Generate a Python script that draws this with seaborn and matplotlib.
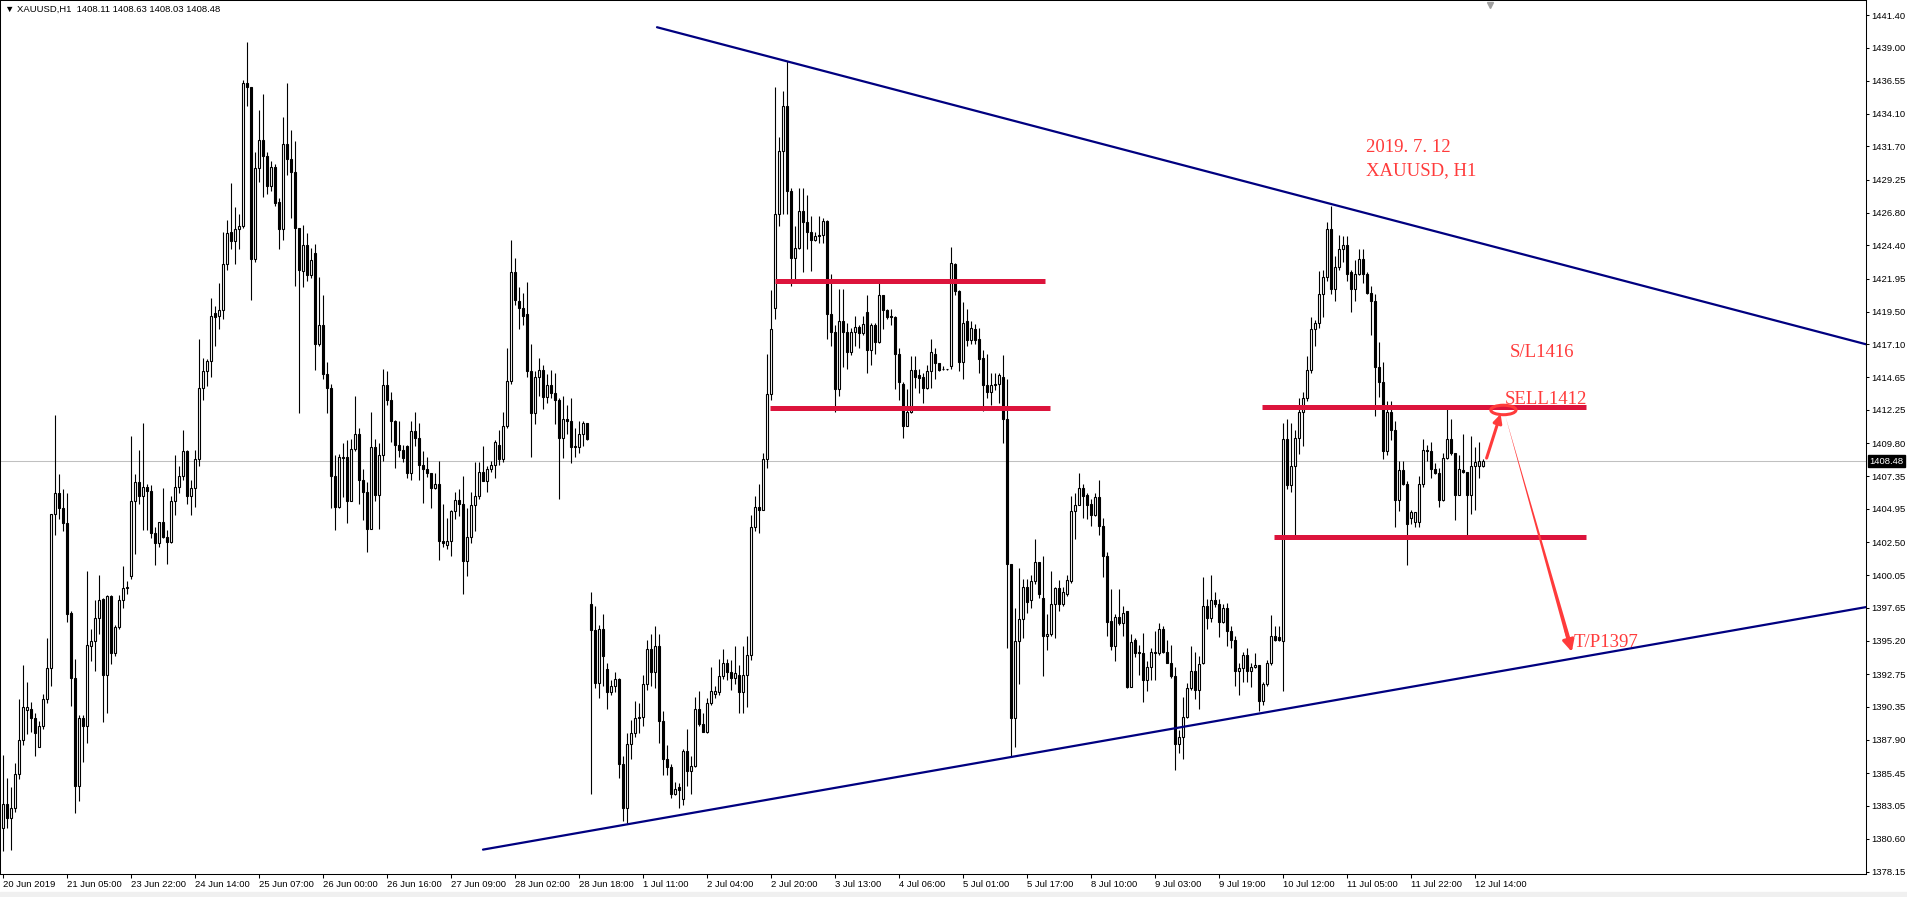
import numpy as np
import pandas as pd
import seaborn as sns
import matplotlib.pyplot as plt
from matplotlib import transforms
from matplotlib.patches import Ellipse, Rectangle

# XAUUSD H1, 20 Jun 2019 .. 12 Jul 2019 16:00, one value per hourly bar
opens = [
    1381.4, 1383.2, 1382.1, 1382.9, 1385.4, 1387.9, 1390.1, 1390.2, 1389.5, 1387.4,
    1388.9, 1390.9, 1393.2, 1404.6, 1406.1, 1405.0, 1403.9, 1397.3, 1392.5, 1384.5,
    1389.5, 1388.9, 1394.8, 1395.2, 1396.9, 1398.3, 1392.7, 1398.5, 1394.3, 1396.2,
    1398.2, 1399.1, 1400.0, 1405.5, 1406.9, 1405.9, 1406.6, 1406.3, 1403.2, 1402.4,
    1404.0, 1402.9, 1402.5, 1405.5, 1406.6, 1407.4, 1409.2, 1405.9, 1406.5, 1408.6,
    1413.9, 1415.1, 1415.9, 1419.4, 1419.2, 1419.6, 1423.0, 1425.4, 1424.7, 1425.6,
    1425.8, 1436.4, 1436.1, 1423.4, 1430.1, 1432.2, 1431.0, 1428.8, 1430.2, 1427.6,
    1425.6, 1431.9, 1430.8, 1429.8, 1425.7, 1422.5, 1424.4, 1422.2, 1423.8, 1417.1,
    1418.5, 1414.9, 1413.9, 1407.4, 1405.1, 1408.8, 1408.8, 1405.5, 1409.4, 1410.5,
    1407.1, 1406.2, 1403.5, 1409.5, 1406.0, 1408.9, 1414.1, 1413.0, 1411.4, 1409.7,
    1409.3, 1409.6, 1407.6, 1410.7, 1410.2, 1408.2, 1407.9, 1407.6, 1406.5, 1406.8,
    1402.6, 1402.3, 1402.6, 1404.8, 1405.6, 1405.3, 1401.1, 1402.9, 1405.2, 1405.9,
    1407.7, 1407.0, 1407.9, 1408.2, 1409.7, 1408.6, 1411.1, 1414.4, 1422.4, 1420.3,
    1419.8, 1419.3, 1415.1, 1412.0, 1414.7, 1415.2, 1413.2, 1414.1, 1413.5, 1413.0,
    1410.2, 1411.6, 1411.4, 1409.6, 1409.5, 1410.5, 1411.3, 1397.9, 1396.0, 1392.1,
    1396.1, 1393.1, 1391.4, 1391.9, 1392.4, 1386.1, 1382.9, 1387.6, 1388.4, 1389.5,
    1389.6, 1392.0, 1394.6, 1392.9, 1394.8, 1389.3, 1386.5, 1385.9, 1383.9, 1384.4,
    1383.5, 1387.1, 1385.6, 1386.0, 1390.2, 1389.1, 1388.5, 1390.6, 1391.3, 1391.4,
    1392.6, 1393.6, 1392.9, 1392.5, 1392.7, 1391.4, 1392.7, 1394.2, 1403.6, 1405.1,
    1404.9, 1408.6, 1413.4, 1419.8, 1426.7, 1431.4, 1434.7, 1428.4, 1423.5, 1424.2,
    1426.9, 1426.1, 1425.4, 1424.8, 1425.2, 1425.2, 1426.2, 1419.3, 1418.0, 1413.8,
    1418.8, 1418.0, 1416.5, 1418.0, 1418.4, 1417.9, 1419.5, 1416.7, 1418.5, 1417.3,
    1420.7, 1419.6, 1419.1, 1419.1, 1416.4, 1414.2, 1411.1, 1412.1, 1415.2, 1414.8,
    1414.7, 1413.9, 1415.1, 1416.4, 1415.7, 1415.3, 1415.3, 1415.5, 1423.0, 1421.0,
    1415.8, 1418.8, 1417.4, 1418.2, 1417.5, 1416.1, 1414.1, 1413.6, 1414.1, 1414.2,
    1414.7, 1411.6, 1400.9, 1389.5, 1395.2, 1396.8, 1399.2, 1398.2, 1399.6, 1401.0,
    1398.4, 1395.6, 1395.7, 1397.9, 1399.1, 1397.9, 1398.7, 1399.6, 1404.8, 1405.2,
    1406.5, 1406.0, 1405.3, 1404.5, 1405.8, 1403.7, 1401.5, 1396.7, 1394.8, 1397.0,
    1396.5, 1397.4, 1391.8, 1395.3, 1394.4, 1394.3, 1392.3, 1393.3, 1394.4, 1394.3,
    1396.1, 1394.4, 1393.6, 1392.6, 1387.6, 1388.1, 1389.6, 1391.7, 1393.0, 1391.6,
    1393.6, 1397.8, 1396.9, 1398.2, 1397.9, 1396.6, 1397.6, 1395.9, 1395.3, 1393.0,
    1393.2, 1394.2, 1393.0, 1393.3, 1393.4, 1390.8, 1392.0, 1393.6, 1395.6, 1395.5,
    1395.2, 1410.1, 1406.7, 1408.1, 1410.2, 1412.1, 1413.1, 1415.2, 1418.2, 1418.7,
    1420.8, 1422.1, 1425.6, 1421.2, 1422.8, 1424.1, 1424.4, 1422.4, 1421.2, 1422.3,
    1423.4, 1422.3, 1420.9, 1420.3, 1415.4, 1414.3, 1409.2, 1412.1, 1410.8, 1405.6,
    1407.8, 1406.8, 1404.3, 1404.0, 1404.0, 1406.8, 1409.3, 1409.2, 1407.9, 1407.6,
    1405.6, 1408.7, 1410.1, 1409.1, 1406.0, 1407.8, 1407.7, 1406.0, 1408.1, 1408.1,
    1408.11,
]
highs = [
    1386.8, 1385.1, 1384.4, 1386.2, 1390.9, 1393.4, 1392.2, 1390.7, 1389.9, 1389.3,
    1391.3, 1395.4, 1404.6, 1411.9, 1407.5, 1406.4, 1406.1, 1397.4, 1393.9, 1389.7,
    1389.7, 1400.4, 1396.1, 1398.2, 1400.1, 1398.4, 1398.6, 1398.6, 1396.4, 1398.6,
    1400.7, 1399.6, 1410.3, 1407.5, 1409.3, 1411.3, 1406.8, 1406.7, 1403.6, 1404.0,
    1406.5, 1403.4, 1405.9, 1408.9, 1408.1, 1410.8, 1409.3, 1407.1, 1409.3, 1417.5,
    1416.1, 1416.0, 1420.5, 1419.9, 1421.6, 1425.4, 1426.3, 1429.0, 1427.2, 1426.7,
    1436.6, 1439.4, 1436.1, 1431.3, 1434.4, 1435.6, 1431.3, 1430.6, 1430.4, 1427.9,
    1433.9, 1436.4, 1432.9, 1432.1, 1425.7, 1425.9, 1425.3, 1424.2, 1424.5, 1422.1,
    1420.7, 1415.8, 1414.2, 1408.9, 1409.0, 1409.8, 1410.0, 1410.1, 1413.3, 1410.9,
    1407.9, 1406.9, 1412.1, 1410.1, 1409.8, 1415.3, 1415.1, 1413.6, 1411.5, 1411.4,
    1409.7, 1409.7, 1411.4, 1412.1, 1411.3, 1409.2, 1408.8, 1407.6, 1407.6, 1408.5,
    1405.3, 1404.3, 1404.9, 1406.2, 1406.4, 1407.4, 1405.0, 1406.2, 1408.4, 1408.4,
    1409.6, 1408.1, 1408.5, 1410.0, 1410.8, 1412.1, 1416.8, 1424.8, 1423.5, 1421.3,
    1420.9, 1421.7, 1417.1, 1415.1, 1416.1, 1415.6, 1414.9, 1415.2, 1415.0, 1413.1,
    1413.3, 1412.6, 1413.1, 1410.9, 1411.4, 1411.4, 1411.3, 1398.8, 1397.8, 1396.4,
    1397.2, 1393.6, 1392.3, 1392.9, 1392.5, 1386.7, 1388.4, 1389.4, 1390.8, 1390.6,
    1392.7, 1395.3, 1395.7, 1396.3, 1395.7, 1390.0, 1387.5, 1386.1, 1384.8, 1384.7,
    1387.2, 1388.7, 1386.7, 1391.1, 1391.5, 1389.9, 1391.0, 1393.3, 1391.9, 1393.9,
    1394.6, 1393.9, 1393.8, 1394.8, 1393.4, 1394.8, 1395.6, 1404.5, 1405.9, 1406.8,
    1409.1, 1416.4, 1421.1, 1436.1, 1432.4, 1435.8, 1438.0, 1428.6, 1425.8, 1428.6,
    1428.6, 1428.1, 1426.6, 1425.4, 1426.6, 1426.4, 1426.3, 1422.3, 1418.5, 1421.2,
    1421.2, 1418.7, 1418.3, 1419.2, 1418.5, 1419.2, 1420.7, 1418.7, 1418.7, 1421.8,
    1420.7, 1419.7, 1419.7, 1419.2, 1416.8, 1414.3, 1413.8, 1416.2, 1416.2, 1415.3,
    1415.0, 1415.6, 1417.5, 1416.8, 1415.7, 1415.5, 1415.3, 1424.3, 1423.1, 1421.1,
    1420.2, 1419.7, 1418.8, 1418.6, 1418.3, 1416.7, 1416.4, 1415.0, 1415.0, 1415.0,
    1416.3, 1414.5, 1400.9, 1397.6, 1400.6, 1399.8, 1399.8, 1400.1, 1402.7, 1401.0,
    1401.5, 1397.2, 1400.4, 1399.2, 1399.7, 1399.2, 1400.1, 1405.9, 1406.1, 1407.6,
    1406.8, 1406.1, 1405.7, 1406.1, 1407.1, 1404.3, 1401.8, 1399.0, 1397.2, 1399.0,
    1397.8, 1397.4, 1395.7, 1395.4, 1394.9, 1395.8, 1393.7, 1394.7, 1395.9, 1396.5,
    1396.3, 1395.3, 1394.9, 1393.3, 1388.6, 1391.1, 1392.1, 1394.8, 1394.4, 1394.1,
    1399.9, 1398.3, 1400.1, 1398.8, 1398.3, 1397.9, 1398.0, 1396.3, 1395.6, 1393.6,
    1394.4, 1394.7, 1393.6, 1394.3, 1393.4, 1392.2, 1393.8, 1397.1, 1396.3, 1396.3,
    1411.3, 1411.6, 1411.3, 1410.8, 1413.1, 1413.6, 1416.2, 1419.1, 1418.9, 1422.5,
    1422.6, 1426.1, 1427.3, 1423.6, 1425.2, 1425.1, 1425.1, 1422.6, 1423.3, 1424.1,
    1424.1, 1422.4, 1421.4, 1420.8, 1417.3, 1415.8, 1412.9, 1412.9, 1411.4, 1408.5,
    1408.5, 1407.0, 1404.9, 1404.7, 1407.4, 1410.1, 1409.7, 1409.9, 1408.3, 1408.0,
    1409.1, 1412.5, 1411.6, 1409.1, 1408.9, 1410.5, 1407.7, 1410.3, 1409.5, 1409.9,
    1408.63,
]
lows = [
    1379.7, 1381.4, 1379.8, 1382.6, 1385.0, 1387.5, 1388.3, 1388.5, 1386.7, 1387.4,
    1388.7, 1390.6, 1391.9, 1403.0, 1404.2, 1403.3, 1396.6, 1390.4, 1382.5, 1383.4,
    1386.3, 1387.7, 1393.7, 1393.0, 1395.7, 1389.2, 1389.9, 1393.5, 1394.1, 1396.1,
    1397.6, 1398.7, 1399.8, 1401.6, 1405.3, 1403.4, 1403.4, 1402.8, 1400.8, 1402.1,
    1402.8, 1400.9, 1402.4, 1404.5, 1406.1, 1407.1, 1405.3, 1404.5, 1405.1, 1408.1,
    1413.0, 1414.0, 1414.7, 1417.0, 1418.2, 1419.0, 1422.6, 1424.1, 1423.0, 1424.1,
    1425.7, 1434.7, 1420.4, 1423.2, 1429.1, 1428.0, 1428.2, 1428.4, 1427.3, 1424.1,
    1424.8, 1429.6, 1426.4, 1421.4, 1412.0, 1421.3, 1421.8, 1422.0, 1415.2, 1417.0,
    1414.5, 1412.0, 1405.0, 1403.4, 1405.0, 1405.8, 1403.9, 1405.5, 1409.2, 1405.3,
    1404.1, 1401.8, 1403.5, 1405.5, 1403.5, 1408.5, 1412.6, 1409.9, 1408.0, 1408.8,
    1408.4, 1407.2, 1407.1, 1409.6, 1407.1, 1405.4, 1407.3, 1405.0, 1406.4, 1401.2,
    1402.1, 1402.0, 1401.5, 1404.2, 1404.4, 1398.7, 1400.0, 1402.4, 1403.3, 1405.7,
    1407.0, 1406.2, 1407.7, 1407.2, 1408.2, 1408.4, 1410.9, 1414.2, 1420.0, 1418.2,
    1418.5, 1414.7, 1408.8, 1411.2, 1413.3, 1412.3, 1412.8, 1413.1, 1411.2, 1405.7,
    1408.7, 1410.5, 1408.3, 1408.8, 1409.1, 1409.6, 1410.0, 1383.9, 1391.7, 1391.0,
    1391.9, 1390.2, 1391.2, 1391.4, 1385.1, 1381.9, 1381.8, 1386.5, 1388.1, 1388.4,
    1388.9, 1391.6, 1391.9, 1391.7, 1387.7, 1385.3, 1385.3, 1383.6, 1383.8, 1382.9,
    1383.1, 1384.5, 1383.9, 1385.9, 1388.9, 1388.5, 1388.4, 1390.5, 1391.0, 1391.2,
    1392.4, 1392.3, 1391.6, 1392.0, 1389.9, 1389.9, 1390.3, 1393.8, 1403.3, 1403.2,
    1404.9, 1408.0, 1413.0, 1419.0, 1425.8, 1426.7, 1426.7, 1421.4, 1421.9, 1424.1,
    1422.4, 1424.1, 1422.5, 1424.7, 1424.6, 1424.6, 1417.5, 1417.0, 1412.1, 1413.3,
    1415.4, 1415.3, 1416.3, 1417.0, 1416.8, 1417.8, 1415.0, 1415.6, 1416.4, 1417.2,
    1418.2, 1419.0, 1418.5, 1413.8, 1413.0, 1410.2, 1411.1, 1412.0, 1413.9, 1413.5,
    1412.8, 1413.8, 1413.9, 1414.5, 1415.1, 1415.2, 1415.2, 1415.3, 1420.7, 1415.1,
    1414.5, 1417.0, 1417.1, 1417.1, 1415.0, 1412.2, 1413.1, 1412.6, 1413.7, 1412.8,
    1409.8, 1394.7, 1386.6, 1387.4, 1392.0, 1395.4, 1397.3, 1397.6, 1399.4, 1398.4,
    1392.6, 1394.5, 1395.6, 1395.4, 1397.4, 1397.8, 1398.5, 1399.5, 1402.7, 1405.2,
    1404.3, 1404.2, 1403.7, 1404.4, 1403.0, 1399.9, 1395.6, 1394.5, 1393.7, 1396.4,
    1395.6, 1391.7, 1391.8, 1394.0, 1392.7, 1390.7, 1391.5, 1392.3, 1392.3, 1394.2,
    1394.3, 1393.6, 1392.5, 1385.7, 1386.9, 1386.5, 1389.5, 1391.6, 1390.9, 1390.2,
    1393.5, 1396.1, 1396.6, 1397.7, 1395.5, 1396.5, 1394.8, 1394.7, 1391.9, 1391.2,
    1392.2, 1392.2, 1391.8, 1393.2, 1390.0, 1390.5, 1391.9, 1393.4, 1395.2, 1395.2,
    1391.5, 1406.4, 1406.2, 1403.0, 1409.0, 1409.6, 1412.9, 1415.0, 1417.0, 1418.3,
    1419.1, 1421.8, 1420.8, 1420.3, 1422.6, 1423.2, 1421.8, 1419.5, 1420.3, 1422.2,
    1421.6, 1420.8, 1417.8, 1411.8, 1413.2, 1408.6, 1408.9, 1410.0, 1403.6, 1404.8,
    1406.7, 1400.8, 1403.8, 1403.6, 1403.6, 1406.6, 1408.5, 1407.2, 1407.5, 1405.1,
    1405.5, 1408.6, 1408.9, 1404.1, 1406.0, 1407.6, 1403.0, 1404.6, 1404.9, 1407.2,
    1408.03,
]
closes = [
    1383.2, 1382.1, 1382.9, 1385.4, 1387.9, 1390.3, 1390.3, 1389.5, 1388.4, 1388.9,
    1390.9, 1393.2, 1404.6, 1406.1, 1405.0, 1403.9, 1397.2, 1392.5, 1384.5, 1389.5,
    1388.9, 1394.9, 1395.2, 1396.9, 1398.2, 1392.7, 1398.5, 1394.3, 1396.2, 1398.2,
    1399.1, 1399.2, 1405.5, 1406.9, 1405.9, 1406.6, 1406.3, 1403.2, 1402.4, 1404.0,
    1402.9, 1402.5, 1405.5, 1406.6, 1407.4, 1409.2, 1405.9, 1406.5, 1408.6, 1413.9,
    1415.1, 1415.9, 1419.2, 1419.1, 1419.6, 1423.0, 1425.3, 1424.7, 1425.6, 1425.8,
    1436.4, 1436.1, 1423.4, 1430.1, 1432.2, 1431.0, 1428.8, 1430.2, 1427.5, 1425.6,
    1431.9, 1430.8, 1429.8, 1425.7, 1422.6, 1424.4, 1422.2, 1423.3, 1417.1, 1418.5,
    1414.9, 1413.9, 1407.4, 1405.1, 1408.8, 1408.7, 1405.5, 1409.4, 1410.5, 1407.1,
    1406.2, 1403.5, 1409.5, 1406.0, 1408.9, 1414.1, 1413.0, 1411.4, 1409.7, 1409.3,
    1408.7, 1407.6, 1410.7, 1410.2, 1408.2, 1407.9, 1407.6, 1406.5, 1406.8, 1402.6,
    1402.4, 1402.6, 1404.8, 1405.6, 1405.3, 1401.1, 1402.9, 1405.2, 1405.9, 1407.7,
    1407.0, 1407.9, 1408.2, 1409.9, 1408.6, 1411.1, 1414.4, 1422.4, 1420.4, 1419.8,
    1419.2, 1415.1, 1412.0, 1414.7, 1415.2, 1413.2, 1414.1, 1413.5, 1413.0, 1410.2,
    1411.6, 1411.4, 1409.5, 1409.5, 1410.5, 1411.3, 1410.1, 1396.0, 1392.1, 1396.1,
    1394.1, 1391.4, 1391.9, 1392.4, 1386.1, 1382.9, 1387.6, 1388.4, 1389.5, 1389.6,
    1392.0, 1394.6, 1392.9, 1394.8, 1389.3, 1386.5, 1385.9, 1383.9, 1384.3, 1384.2,
    1387.1, 1385.6, 1386.0, 1390.2, 1389.1, 1388.5, 1390.6, 1391.5, 1391.5, 1392.6,
    1393.6, 1392.9, 1392.5, 1392.8, 1391.4, 1392.7, 1394.2, 1403.6, 1405.1, 1404.9,
    1408.6, 1413.4, 1418.2, 1426.7, 1431.4, 1434.7, 1428.4, 1423.5, 1424.2, 1426.9,
    1426.1, 1425.4, 1424.8, 1425.1, 1425.1, 1426.2, 1419.3, 1418.0, 1413.8, 1418.8,
    1418.0, 1416.5, 1418.0, 1418.4, 1417.9, 1418.6, 1416.7, 1418.5, 1417.3, 1420.7,
    1419.6, 1419.1, 1419.2, 1416.4, 1414.3, 1411.1, 1412.1, 1415.2, 1414.7, 1414.6,
    1413.9, 1415.1, 1416.5, 1415.7, 1415.2, 1415.3, 1415.3, 1423.1, 1421.0, 1415.8,
    1418.7, 1417.4, 1418.3, 1417.4, 1416.0, 1414.1, 1413.6, 1414.1, 1414.2, 1414.8,
    1411.6, 1400.9, 1389.5, 1395.2, 1396.8, 1399.2, 1398.1, 1399.6, 1401.0, 1398.7,
    1395.6, 1395.7, 1397.9, 1399.1, 1397.9, 1398.8, 1399.7, 1404.8, 1405.2, 1406.5,
    1405.9, 1405.2, 1404.5, 1405.8, 1403.7, 1401.5, 1396.6, 1394.8, 1397.0, 1396.5,
    1397.3, 1391.8, 1395.1, 1394.3, 1394.3, 1392.3, 1393.3, 1394.4, 1394.3, 1396.1,
    1394.4, 1393.6, 1392.6, 1387.6, 1388.1, 1389.6, 1391.7, 1393.0, 1391.6, 1393.5,
    1397.8, 1396.9, 1398.2, 1397.9, 1396.6, 1397.6, 1395.9, 1395.3, 1393.0, 1393.2,
    1394.2, 1393.0, 1393.3, 1393.4, 1390.8, 1392.0, 1393.6, 1395.6, 1395.3, 1395.3,
    1410.1, 1406.7, 1408.1, 1410.2, 1412.1, 1413.1, 1415.2, 1418.2, 1418.7, 1420.8,
    1422.1, 1425.6, 1421.2, 1422.8, 1424.1, 1424.4, 1422.3, 1421.2, 1422.3, 1423.4,
    1422.3, 1420.9, 1420.3, 1415.4, 1414.3, 1409.2, 1412.1, 1410.8, 1405.6, 1407.8,
    1406.8, 1403.8, 1404.7, 1404.7, 1406.8, 1409.3, 1409.2, 1407.9, 1407.6, 1405.6,
    1408.7, 1410.1, 1409.1, 1406.0, 1407.9, 1407.7, 1406.0, 1408.1, 1408.4, 1408.5,
    1408.48,
]

x_labels = [
    "20 Jun 2019", "21 Jun 05:00", "23 Jun 22:00", "24 Jun 14:00", "25 Jun 07:00",
    "26 Jun 00:00", "26 Jun 16:00", "27 Jun 09:00", "28 Jun 02:00", "28 Jun 18:00",
    "1 Jul 11:00", "2 Jul 04:00", "2 Jul 20:00", "3 Jul 13:00", "4 Jul 06:00",
    "5 Jul 01:00", "5 Jul 17:00", "8 Jul 10:00", "9 Jul 03:00", "9 Jul 19:00",
    "10 Jul 12:00", "11 Jul 05:00", "11 Jul 22:00", "12 Jul 14:00",
]
price_ticks = [
    1441.40, 1439.00, 1436.55, 1434.10, 1431.70, 1429.25, 1426.80, 1424.40, 1421.95,
    1419.50, 1417.10, 1414.65, 1412.25, 1409.80, 1407.35, 1404.95, 1402.50, 1400.05,
    1397.65, 1395.20, 1392.75, 1390.35, 1387.90, 1385.45, 1383.05, 1380.60, 1378.15,
]
bid = 1408.48
header = "XAUUSD,H1  1408.11 1408.63 1408.03 1408.48"

# drawing objects on the chart, in (bar, price)
upper_trend_bar = [163.5, 465.75]
upper_trend_price = [1440.5, 1417.1]
lower_trend_bar = [120.0, 465.75]
lower_trend_price = [1379.8, 1397.7]
zone_from = [193.0, 191.75, 314.75, 317.75]
zone_to = [260.5, 261.75, 395.75, 395.75]
zone_price = [1421.75, 1412.4, 1412.5, 1402.9]

notes = ["2019. 7. 12", "XAUUSD, H1", "S/L1416", "SELL1412", "T/P1397"]
note_bar = [340.75, 340.75, 376.6, 375.5, 392.6]
note_price = [1431.3, 1429.6, 1416.14, 1412.69, 1394.78]

df = pd.DataFrame({"open": opens, "high": highs, "low": lows, "close": closes})
df["bar"] = np.arange(len(df))
rise = df["close"] >= df["open"]
body = (df["close"] - df["open"]).abs()

sns.set_style("white")
plt.rcParams["font.family"] = ["Liberation Sans", "DejaVu Sans"]

fig = plt.figure(figsize=(19.08, 8.97), dpi=100)
ax = fig.add_axes([0, 23 / 897, 1866 / 1908, 874 / 897])

ax.axhline(bid, color="#c0c0c0", lw=0.75, zorder=1)
ax.vlines(df["bar"], df["low"], df["high"], color="black", lw=0.8, zorder=2)
ax.bar(df.loc[rise, "bar"], body[rise], bottom=df.loc[rise, "open"], width=0.58,
       facecolor="white", edgecolor="black", linewidth=0.8, zorder=3)
ax.bar(df.loc[~rise, "bar"], body[~rise], bottom=df.loc[~rise, "close"], width=0.58,
       facecolor="black", edgecolor="black", linewidth=0.8, zorder=3)

sns.lineplot(x=upper_trend_bar, y=upper_trend_price, ax=ax, color="#000080", linewidth=1.6, zorder=4)
sns.lineplot(x=lower_trend_bar, y=lower_trend_price, ax=ax, color="#000080", linewidth=1.6, zorder=4)
ax.hlines(zone_price, zone_from, zone_to, colors="#dc143c", linewidth=3.6, zorder=4)

red = "#ff3b3b"
for txt, b, p in zip(notes, note_bar, note_price):
    ax.text(b, p, txt, color=red, fontsize=13.5, ha="left", va="baseline",
            family=["Liberation Serif", "DejaVu Serif"], zorder=6)

# entry ellipse and the two arrows
ax.add_patch(Ellipse((375.1, 1412.25), width=6.3, height=0.7, fill=False,
                     edgecolor=red, lw=2.2, zorder=6))
ax.annotate("", xy=(374.4, 1411.95), xytext=(370.9, 1408.7),
            arrowprops=dict(arrowstyle="-|>,head_length=0.5,head_width=0.25",
                            color=red, lw=2.2, shrinkA=0, shrinkB=0), zorder=6)
ax.annotate("", xy=(375.6, 1411.8), xytext=(391.5, 1395.2),
            arrowprops=dict(arrowstyle="wedge,tail_width=0.3,shrink_factor=0.5",
                            color=red, lw=0, shrinkA=0, shrinkB=0), zorder=6)
ax.annotate("", xy=(392.2, 1394.4), xytext=(390.6, 1396.1),
            arrowprops=dict(arrowstyle="-|>,head_length=0.7,head_width=0.35",
                            color=red, lw=2.2, shrinkA=0, shrinkB=0), zorder=6)

ax.set_xlim(-0.75, 465.75)
ax.set_ylim(1378.0, 1442.51)
ax.set_xlabel("")
ax.set_ylabel("")

ax.set_xticks(np.arange(0, len(df), 16)[:len(x_labels)])
ax.set_xticklabels(x_labels, ha="left", fontsize=6.8)
shift = transforms.ScaledTranslation(2 / 100, 0, fig.dpi_scale_trans)
for lbl in ax.get_xticklabels():
    lbl.set_transform(lbl.get_transform() + shift)

ax.yaxis.tick_right()
ax.set_yticks(price_ticks)
ax.set_yticklabels([f"{p:.2f}" for p in price_ticks], fontsize=6.8)
ax.tick_params(axis="x", bottom=True, direction="out", length=3, width=0.75, pad=1.5, colors="black")
ax.tick_params(axis="y", right=True, left=False, direction="out", length=2.5, width=0.75, pad=1, colors="black")
for s in ax.spines.values():
    s.set_visible(True)
    s.set_color("black")
    s.set_linewidth(0.75)

tag_tf = transforms.blended_transform_factory(ax.transAxes, ax.transData)
ax.text(1.0018, bid, f"{bid:.2f}", transform=tag_tf, ha="left", va="center", fontsize=6.8,
        color="white", bbox=dict(boxstyle="square,pad=0.12", fc="black", ec="black"),
        zorder=10, clip_on=False)

shift_tf = transforms.blended_transform_factory(ax.transData, ax.transAxes)
ax.plot([371.75], [1 - 5 / 874], marker="v", color="#a0a0a0", ms=5, transform=shift_tf,
        clip_on=False, zorder=7)

fig.text(5 / 1908, 1 - 9 / 897, "\u25bc " + header, fontsize=6.8, ha="left", va="center", color="black")
fig.patches.append(Rectangle((0, 0), 1, 5 / 897, transform=fig.transFigure, color="#f0f0f0", zorder=0))

fig.savefig("out.png", dpi=100)
